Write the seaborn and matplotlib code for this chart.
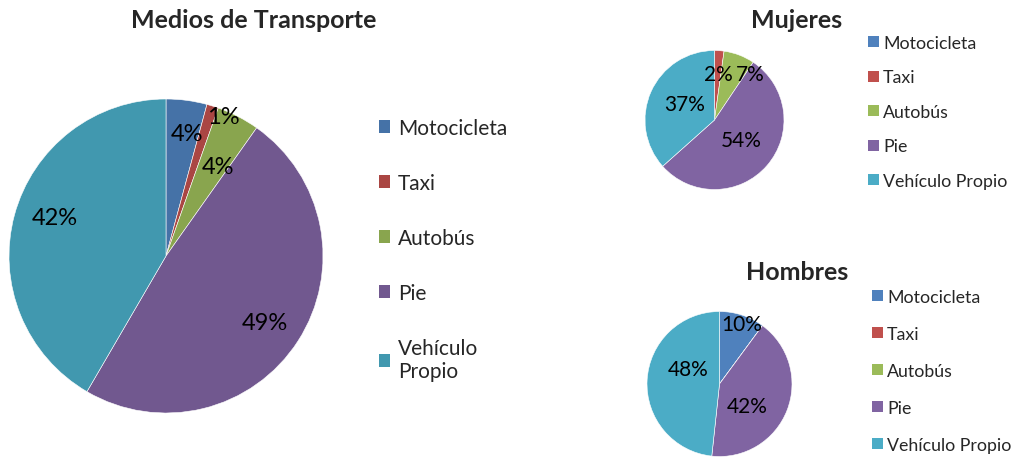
import matplotlib
matplotlib.use("Agg")
import matplotlib.pyplot as plt
from matplotlib.patches import Patch
import numpy as np
import seaborn as sns

# ---- data ----
categories = ["Motocicleta", "Taxi", "Autobús", "Pie", "Vehículo Propio"]
total_values = [4.2, 1.2, 4.4, 48.6, 41.6]
mujeres_values = [0.0, 2.2, 7.2, 54.0, 36.6]
hombres_values = [10.1, 0.0, 0.0, 41.6, 48.3]
titles = ["Medios de Transporte", "Mujeres", "Hombres"]

sns.set_theme(style="white")
plt.rcParams["font.family"] = ["Lato", "DejaVu Sans"]

main_colors = ["#4572A7", "#AA4643", "#89A54E", "#71588F", "#4198AF"]
small_colors = sns.color_palette(["#4F81BD", "#C0504D", "#9BBB59", "#8064A2", "#4BACC6"])

W, H = 1018, 460
fig = plt.figure(figsize=(W / 100, H / 100), dpi=100)
fig.patch.set_facecolor("white")


def px_axes(cx, cy, r):
    return fig.add_axes([(cx - r) / W, (H - cy - r) / H, 2 * r / W, 2 * r / H])


def draw_pie(ax, values, colors, label_layout, fontsize):
    wedges, _ = ax.pie(values, colors=colors, startangle=90, counterclock=False,
                       radius=1, wedgeprops=dict(edgecolor="white", linewidth=0.4))
    ax.set_xlim(-1, 1)
    ax.set_ylim(-1, 1)
    ax.set_aspect("equal")
    ax.axis("off")
    for w, v, (frac, dang) in zip(wedges, values, label_layout):
        if v <= 0:
            continue
        mid = np.deg2rad((w.theta1 + w.theta2) / 2 + dang)
        ax.text(frac * np.cos(mid), frac * np.sin(mid), f"{round(v):d}%",
                ha="center", va="center", fontsize=fontsize, color="black")
    return wedges


# main pie
ax0 = px_axes(166, 257, 157)
draw_pie(ax0, total_values, main_colors,
         [(0.79, -2), (0.96, -5), (0.66, -3), (0.76, -1), (0.75, -4)], 17)
fig.text(254 / W, 1 - 20 / H, titles[0], ha="center", va="center",
         fontsize=18, fontweight="bold")
main_labels = ["Motocicleta", "Taxi", "Autobús", "Pie", "Vehículo\nPropio"]
fig.legend(handles=[Patch(facecolor=c, edgecolor="none") for c in main_colors],
           labels=main_labels, loc="upper left",
           bbox_to_anchor=(379 / W, 1 - 119 / H), frameon=False, fontsize=15,
           handlelength=0.55, handleheight=0.55, handletextpad=0.35,
           labelspacing=1.68, borderpad=0, borderaxespad=0)

# Mujeres
ax1 = px_axes(714.5, 121, 69.5)
draw_pie(ax1, mujeres_values, list(small_colors),
         [(0.0, 0), (0.66, -1), (0.83, -17), (0.48, 4), (0.48, -4)], 15)
fig.text(797 / W, 1 - 20 / H, titles[1], ha="center", va="center",
         fontsize=18, fontweight="bold")
fig.legend(handles=[Patch(facecolor=c, edgecolor="none") for c in small_colors],
           labels=categories, loc="upper left",
           bbox_to_anchor=(868 / W, 1 - 36 / H), frameon=False, fontsize=12.8,
           handlelength=0.6, handleheight=0.6, handletextpad=0.25,
           labelspacing=1.04, borderpad=0, borderaxespad=0)

# Hombres
ax2 = px_axes(719.5, 385, 72.5)
draw_pie(ax2, hombres_values, list(small_colors),
         [(0.88, -2), (0.0, 0), (0.0, 0), (0.48, -17), (0.48, -22)], 15)
fig.text(797 / W, 1 - 273 / H, titles[2], ha="center", va="center",
         fontsize=18, fontweight="bold")
fig.legend(handles=[Patch(facecolor=c, edgecolor="none") for c in small_colors],
           labels=categories, loc="upper left",
           bbox_to_anchor=(872 / W, 1 - 290 / H), frameon=False, fontsize=12.8,
           handlelength=0.6, handleheight=0.6, handletextpad=0.25,
           labelspacing=1.18, borderpad=0, borderaxespad=0)

fig.savefig("out.png", dpi=100, facecolor="white")
